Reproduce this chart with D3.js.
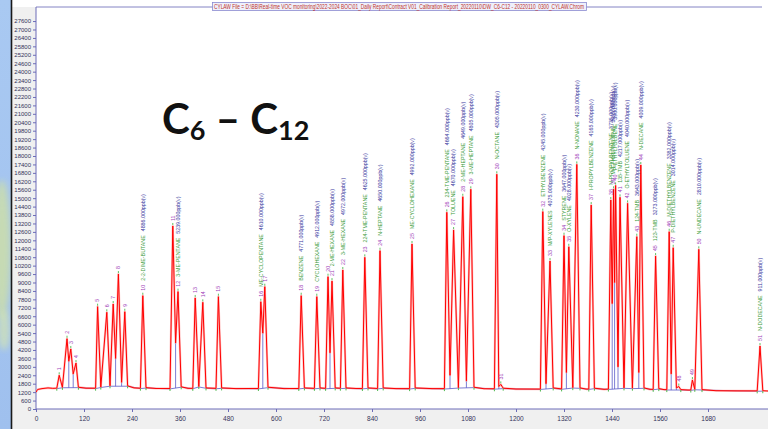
<!DOCTYPE html>
<html>
<head>
<meta charset="utf-8">
<script src="https://cdn.jsdelivr.net/npm/d3@7"></script>
<style>
  html, body { margin: 0; padding: 0; background: #fff; }
  svg { display: block; }
</style>
</head>
<body>
<script>
// Chromatogram data (time units on x, signal on y)
const peakTimes = [58, 77.5, 87, 100, 154, 177, 193, 206, 222, 267,
  342, 355, 398, 417, 456, 562, 572, 663, 702, 730,
  740, 767, 822, 860, 940, 1027, 1044, 1067, 1087, 1152,
  1162, 1267, 1285, 1320, 1332, 1352, 1388, 1437, 1444, 1449,
  1460, 1479, 1502, 1512, 1549, 1583, 1593, 1607, 1641, 1657, 1810];
const peakHeights = [2400, 5000, 4270, 3270, 7280, 6880, 7470, 9600, 6920, 8060,
  13020, 8350, 7900, 7590, 7990, 7630, 8700, 8060, 7990, 9410,
  9100, 9890, 10790, 11260, 11740, 13990, 12730, 15100, 15630, 16700,
  1750, 14040, 10530, 12330, 11540, 17400, 14510, 14870, 15630, 15900,
  15060, 14630, 12260, 17360, 10880, 12610, 11470, 1600, 2060, 11360, 4480];
const peakNames = ["", "", "", "", "", "", "", "", "", "2-2-DIME-BUTANE",
  "", "3-ME-PENTANE", "", "", "", "ME-CYCLOPENTANE", "", "BENZENE", "CYCLOHEXANE", "",
  "2-ME-HEXANE", "3-ME-HEXANE", "224-TME-PENTANE", "N-HEPTANE", "ME-CYCLOHEXANE", "234-TME-PENTANE", "TOLUENE", "2-ME-HEPTANE", "3-ME-HEPTANE", "N-OCTANE",
  "", "ETHYLBENZENE", "M/P-XYLENES", "STYRENE", "O-XYLENE", "N-NONANE", "I-PROPYLBENZENE", "N-PROPYLBENZENE", "M-ETHYLTOLUENE", "P-ETHYLTOLUENE",
  "135-TMB", "O-ETHYLTOLUENE", "124-TMB", "N-DECANE", "123-TMB", "M-DIETHYLBENZENE", "P-DIETHYLBENZENE", "", "", "N-UNDECANE", "N-DODECANE"];
const peakAmounts = [null, null, null, null, null, null, null, null, null, 4886,
  null, 5239, null, null, null, 4610, null, 4771, 4912, null,
  4858, 4972, 4625, 4650, 4992, 4664, 4670, 4649, 4805, 4305,
  null, 4245, 4075, 3647, 4028, 4230, 4165, 3735, 3955, 3900,
  4217, 4040, 3643, 4009, 3273, 3382, 3014, null, null, 2810, 911];

// baseline points (b), peak feet (f) and valleys between co-eluting peaks (v)
const troughs = [
  [0, 1200, "b"], [4, 1390, "b"], [15, 1450, "b"], [30, 1500, "b"], [42, 1470, "b"],
  [52, 1480, "f"], [66, 1540, "f"], [82, 3400, "v"], [93, 2500, "v"], [106, 1550, "f"],
  [125, 1480, "b"], [149, 1480, "f"], [162, 1560, "f"], [185, 1650, "f"], [199, 3600, "v"],
  [214, 1900, "v"], [229, 1650, "f"], [245, 1500, "b"], [261, 1480, "f"], [275, 1520, "f"],
  [300, 1460, "b"], [335, 1460, "f"], [349, 4700, "v"], [363, 1580, "f"], [380, 1470, "b"],
  [392, 1470, "f"], [407, 1600, "f"], [425, 1500, "f"], [450, 1470, "f"], [464, 1500, "f"],
  [500, 1450, "b"], [540, 1460, "b"], [556, 1460, "f"], [567, 5400, "v"], [580, 1550, "f"],
  [620, 1450, "b"], [657, 1460, "f"], [671, 1500, "f"], [696, 1470, "f"], [710, 1500, "f"],
  [724, 1470, "f"], [735, 4000, "v"], [748, 1500, "f"], [761, 1480, "f"], [775, 1500, "f"],
  [800, 1460, "b"], [816, 1460, "f"], [830, 1500, "f"], [854, 1460, "f"], [868, 1500, "f"],
  [900, 1450, "b"], [934, 1450, "f"], [948, 1500, "f"], [990, 1450, "b"], [1021, 1450, "f"],
  [1035, 2400, "v"], [1056, 1520, "f"], [1076, 2000, "v"], [1095, 1550, "f"], [1120, 1440, "b"],
  [1146, 1440, "f"], [1157, 1600, "v"], [1168, 1480, "f"], [1200, 1420, "b"], [1250, 1420, "b"],
  [1261, 1420, "f"], [1275, 1800, "v"], [1293, 1500, "f"], [1314, 1430, "f"], [1326, 2600, "v"],
  [1342, 1520, "f"], [1360, 1500, "f"], [1375, 1420, "b"], [1382, 1420, "f"], [1396, 1480, "f"],
  [1420, 1400, "b"], [1431, 1420, "f"], [1440.5, 7500, "v"], [1446.5, 9000, "v"], [1455, 3000, "v"],
  [1470, 1500, "f"], [1491, 1480, "f"], [1507, 2600, "v"], [1520, 1500, "f"], [1535, 1400, "b"],
  [1543, 1400, "f"], [1557, 1450, "f"], [1570, 1380, "b"], [1577, 1380, "f"], [1588, 2500, "v"],
  [1601, 1500, "v"], [1612, 1380, "f"], [1630, 1350, "b"], [1637, 1350, "f"], [1647, 1400, "f"],
  [1665, 1380, "f"], [1700, 1300, "b"], [1750, 1290, "b"], [1803, 1290, "f"], [1817, 1300, "f"],
  [1830, 1280, "b"]
];

const yTicks = d3.range(0, 27601, 600);
const xTicks = [0, 120, 240, 360, 480, 600, 720, 840, 960, 1080, 1200, 1320, 1440, 1560, 1680];

const fileTitle = "CYLAW File = D:\\BB\\Real-time VOC monitoring\\2022-2024 BOC\\01_Daily Report\\Contract V01_Calibration Report_20220110\\DW_C6-C12 - 20220110_0300_CYLAW.Chrom";

// Setup
const w = 768, h = 429;
const plotLeft = 36, plotTop = 7, plotBottom = 409;

const svg = d3.select("body").append("svg")
  .attr("width", w)
  .attr("height", h)
  .style("font-family", "'Liberation Sans', Arial, sans-serif");

// slide background strip on the far left
const defs = svg.append("defs");
const grad = defs.append("linearGradient").attr("id", "strip").attr("x1", 0).attr("y1", 0).attr("x2", 0).attr("y2", 1);
grad.append("stop").attr("offset", "0%").attr("stop-color", "#a9c9f2");
grad.append("stop").attr("offset", "100%").attr("stop-color", "#9fc0ee");
defs.append("filter").attr("id", "blur").append("feGaussianBlur").attr("stdDeviation", 3);
defs.append("clipPath").attr("id", "plotclip").append("rect")
  .attr("x", plotLeft).attr("y", plotTop).attr("width", w - plotLeft).attr("height", plotBottom - plotTop);

svg.append("rect").attr("x", 0).attr("y", 0).attr("width", 12).attr("height", h).attr("fill", "url(#strip)");
svg.append("ellipse").attr("cx", 2).attr("cy", 250).attr("rx", 9).attr("ry", 70)
  .attr("fill", "#cfe0a6").attr("opacity", 0.8).attr("filter", "url(#blur)");
svg.append("ellipse").attr("cx", 4).attr("cy", 330).attr("rx", 6).attr("ry", 20)
  .attr("fill", "#d6e6b0").attr("opacity", 0.7).attr("filter", "url(#blur)");
svg.append("rect").attr("x", 12).attr("y", 0).attr("width", w - 12).attr("height", h).attr("fill", "#f0f0f0");
svg.append("rect").attr("x", 12).attr("y", 0).attr("width", w - 12).attr("height", plotTop).attr("fill", "#ffffff");
svg.append("rect").attr("x", plotLeft).attr("y", plotTop).attr("width", w - plotLeft).attr("height", plotBottom - plotTop).attr("fill", "#ffffff");
svg.append("line").attr("x1", 11.5).attr("x2", 11.5).attr("y1", 0).attr("y2", h)
  .attr("stroke", "#1a1a1a").attr("stroke-width", 1.6);

// Scales
const xScale = d3.scaleLinear().domain([0, 1830]).range([plotLeft, w]);
const yScale = d3.scaleLinear().domain([0, 28600]).range([plotBottom, plotTop]);

// top border + file title box
svg.append("line").attr("x1", plotLeft).attr("x2", 762).attr("y1", plotTop).attr("y2", plotTop)
  .attr("stroke", "#8484c4").attr("stroke-width", 1);
svg.append("rect").attr("x", 212.5).attr("y", 2.5).attr("width", 374).attr("height", 8)
  .attr("fill", "#eef0fb").attr("stroke", "#8a8ad0").attr("stroke-width", 0.8);
svg.append("text").attr("x", 214).attr("y", 9)
  .attr("font-size", 6.3).attr("fill", "#c0302a")
  .attr("textLength", 370).attr("lengthAdjust", "spacingAndGlyphs")
  .text(fileTitle);

// Axes
const axisColor = "#6c6cb8";
const yAxis = svg.append("g")
  .attr("transform", `translate(${plotLeft},0)`)
  .call(d3.axisLeft(yScale).tickValues(yTicks).tickSize(3).tickPadding(2).tickFormat(d3.format("d")));
yAxis.select(".domain").attr("stroke", axisColor).attr("d", `M0,${plotTop}V${plotBottom}`);
yAxis.selectAll(".tick line").attr("stroke", axisColor);
yAxis.selectAll(".tick text").attr("font-size", 6).attr("fill", "#33335a").attr("font-family", null);

const xAxis = svg.append("g")
  .attr("transform", `translate(0,${plotBottom})`)
  .call(d3.axisBottom(xScale).tickValues(xTicks).tickSize(3).tickPadding(4).tickFormat(d3.format("d")));
xAxis.select(".domain").attr("stroke", axisColor).attr("d", `M${plotLeft},0H${w}`);
xAxis.selectAll(".tick line").attr("stroke", axisColor);
xAxis.selectAll(".tick text").attr("font-size", 6.5).attr("fill", "#33335a").attr("font-family", null);

// Trace = baseline/valley points + peak apexes
const peaks = peakTimes.map((t, i) => ({
  id: i + 1, t: t, v: peakHeights[i], name: peakNames[i], amount: peakAmounts[i]
}));
const trace = troughs.map(d => [d[0], d[1]])
  .concat(peaks.map(p => [p.t, p.v]))
  .sort((a, b) => a[0] - b[0]);

const feet = troughs.filter(d => d[2] === "f");
const baseAt = d3.scaleLinear().domain(feet.map(d => d[0])).range(feet.map(d => d[1])).clamp(true);

const plot = svg.append("g").attr("clip-path", "url(#plotclip)");

// blue integration baseline
plot.append("path")
  .datum(feet)
  .attr("fill", "none")
  .attr("stroke", "#5a5ac8")
  .attr("stroke-width", 0.8)
  .attr("d", d3.line().x(d => xScale(d[0])).y(d => yScale(d[1] - 30)));

// drop lines at valleys
plot.selectAll(".drop")
  .data(troughs.filter(d => d[2] === "v"))
  .enter().append("line")
  .attr("class", "drop")
  .attr("x1", d => xScale(d[0])).attr("x2", d => xScale(d[0]))
  .attr("y1", d => yScale(baseAt(d[0]) - 30)).attr("y2", d => yScale(d[1]))
  .attr("stroke", "#5a5ac8").attr("stroke-width", 0.8);

const traceLine = d3.line()
  .x(d => xScale(d[0]))
  .y(d => yScale(d[1]))
  .curve(d3.curveLinear);

plot.append("path").datum(trace)
  .attr("fill", "none").attr("stroke", "#ff8c8c").attr("stroke-width", 2.2).attr("opacity", 0.55)
  .attr("stroke-linejoin", "round")
  .attr("d", traceLine);
plot.append("path").datum(trace)
  .attr("fill", "none").attr("stroke", "#ff0000").attr("stroke-width", 1)
  .attr("stroke-linejoin", "round")
  .attr("d", traceLine);

// green marks at peak feet
plot.selectAll(".foot")
  .data(feet)
  .enter().append("line")
  .attr("class", "foot")
  .attr("x1", d => xScale(d[0])).attr("x2", d => xScale(d[0]))
  .attr("y1", d => yScale(d[1]) + 0.5).attr("y2", d => yScale(d[1]) + 2.5)
  .attr("stroke", "#4cb84c").attr("stroke-width", 1);

// green marks above apexes
plot.selectAll(".apex")
  .data(peaks)
  .enter().append("line")
  .attr("class", "apex")
  .attr("x1", d => xScale(d.t)).attr("x2", d => xScale(d.t))
  .attr("y1", d => yScale(d.v) - 1).attr("y2", d => yScale(d.v) - 3)
  .attr("stroke", "#4cb84c").attr("stroke-width", 0.9);

// rotated peak labels
const labels = svg.selectAll(".plabel")
  .data(peaks)
  .enter().append("text")
  .attr("class", "plabel")
  .attr("font-size", 5.3)
  .attr("transform", d => `translate(${xScale(d.t)},${yScale(d.v) - 5}) rotate(-90)`)
  .attr("dy", "0.35em");
labels.append("tspan").attr("fill", "#a040b8").text(d => d.id);
labels.filter(d => d.name).append("tspan").attr("dx", 4).attr("fill", "#3c9c3c").text(d => d.name);
labels.filter(d => d.amount != null).append("tspan").attr("dx", 4).attr("fill", "#3a3aa0")
  .text(d => d.amount.toFixed(3) + "ppb(v)");

// big annotation
const big = svg.append("text")
  .attr("x", 162).attr("y", 134)
  .attr("font-family", "Lato, 'Open Sans', sans-serif")
  .attr("font-weight", 700)
  .attr("font-size", 42)
  .attr("fill", "#111");
big.append("tspan").text("C");
big.append("tspan").attr("font-size", 27).attr("dy", 6).text("6");
big.append("tspan").attr("dy", -6).text(" \u2013 C");
big.append("tspan").attr("font-size", 27).attr("dy", 6).text("12");
</script>
</body>
</html>
